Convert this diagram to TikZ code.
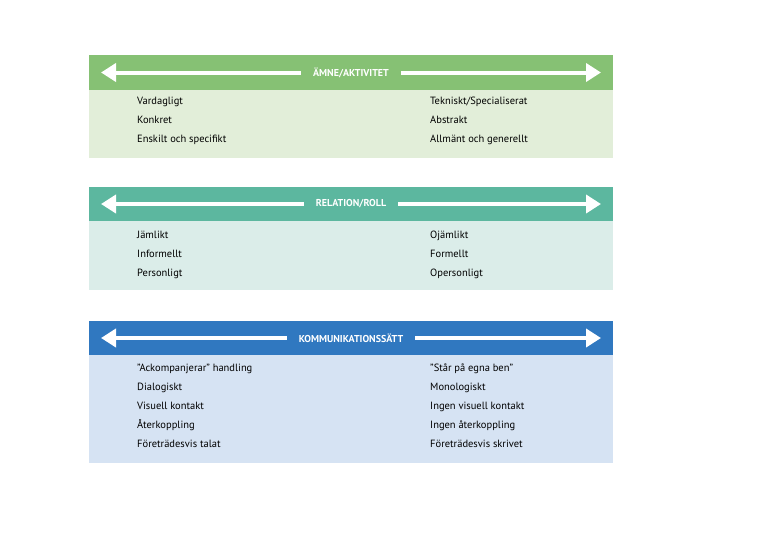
\documentclass[tikz,border=0pt]{standalone}
\usepackage{fontspec}
\setmainfont{PT Sans}
\usetikzlibrary{arrows.meta,positioning}
\definecolor{grhead}{RGB}{134,193,116}
\definecolor{grbody}{RGB}{226,238,217}
\definecolor{tehead}{RGB}{92,183,159}
\definecolor{tebody}{RGB}{219,237,233}
\definecolor{blhead}{RGB}{48,120,192}
\definecolor{blbody}{RGB}{214,227,243}
\tikzset{
	head/.style={font=\bfseries\fontsize{10}{12}\selectfont, text=white, inner sep=0pt},
	items/.style={anchor=north west, align=left, inner sep=0pt, font=\fontsize{10.5}{19}\selectfont},
	wide/.style={white, line width=4pt, -{Triangle[width=18pt,length=15pt]}, shorten >=-2pt}
}
\begin{document}
\begin{tikzpicture}[x=1pt,y=-1pt]
	\useasboundingbox[fill=white] (0,0) rectangle (768,549);

	% panel 1
	\fill[grhead] (89,55) rectangle (613,90);
	\fill[grbody] (89,90) rectangle (613,158);
	\node[head] (t1) at (351,72.5) {ÄMNE/AKTIVITET};
	\coordinate (l1) at (103,72.5);
	\coordinate (r1) at (599,72.5);
	\draw[wide] ([xshift=-12pt]t1.west) -- (l1);
	\draw[wide] ([xshift=12pt]t1.east) -- (r1);
	\node[items] (a1) at (137,97) {Vardagligt\\Konkret\\Enskilt och specifikt};
	\node[items] (b1) at (430,97) {Tekniskt/Specialiserat\\Abstrakt\\Allmänt och generellt};

	% panel 2
	\fill[tehead] (89,187) rectangle (613,221);
	\fill[tebody] (89,221) rectangle (613,290);
	\node[head] (t2) at (351,204) {RELATION/ROLL};
	\coordinate (l2) at (103,204);
	\coordinate (r2) at (599,204);
	\draw[wide] ([xshift=-12pt]t2.west) -- (l2);
	\draw[wide] ([xshift=12pt]t2.east) -- (r2);
	\node[items] (a2) at (137,231) {Jämlikt\\Informellt\\Personligt};
	\node[items] (b2) at (430,231) {Ojämlikt\\Formellt\\Opersonligt};

	% panel 3
	\fill[blhead] (89,321) rectangle (613,355);
	\fill[blbody] (89,355) rectangle (613,463);
	\node[head] (t3) at (351,338) {KOMMUNIKATIONSSÄTT};
	\coordinate (l3) at (103,338);
	\coordinate (r3) at (599,338);
	\draw[wide] ([xshift=-12pt]t3.west) -- (l3);
	\draw[wide] ([xshift=12pt]t3.east) -- (r3);
	\node[items] (a3) at (137,364) {”Ackompanjerar” handling\\Dialogiskt\\Visuell kontakt\\Återkoppling\\Företrädesvis talat};
	\node[items] (b3) at (430,364) {”Står på egna ben”\\Monologiskt\\Ingen visuell kontakt\\Ingen återkoppling\\Företrädesvis skrivet};
\end{tikzpicture}
\end{document}
